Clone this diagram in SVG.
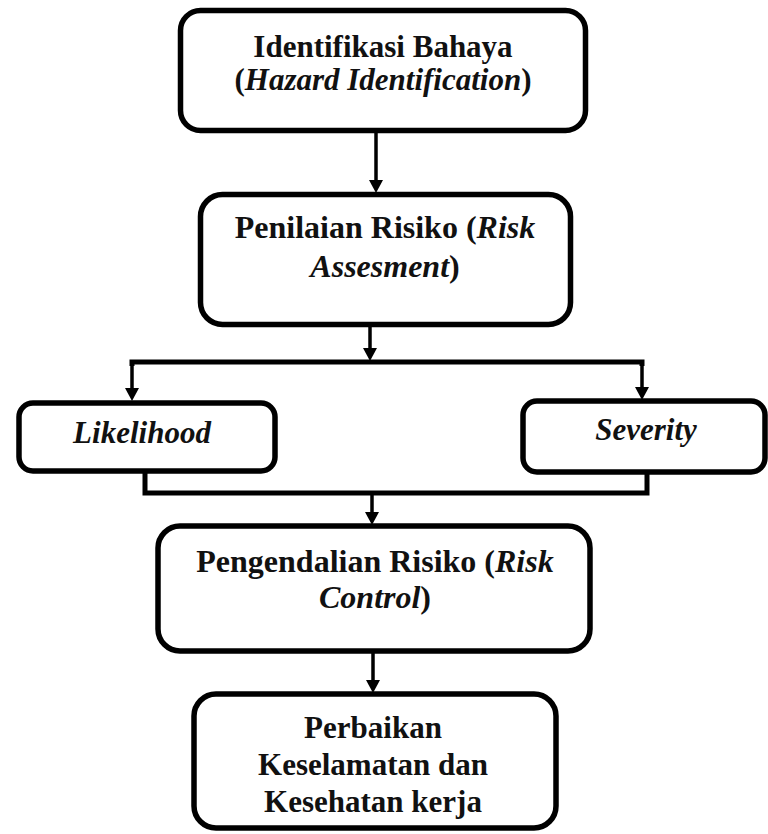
<svg xmlns="http://www.w3.org/2000/svg" width="768" height="834" viewBox="0 0 768 834">
<defs>
<marker id="ah" markerUnits="userSpaceOnUse" markerWidth="14" markerHeight="14" viewBox="0 0 13 14" refX="2" refY="7" orient="auto">
<path d="M0,0 L13,7 L0,14 Z" fill="#000"/>
</marker>
<style>
.box{fill:#fff;stroke:#000;stroke-width:5.5}
.t{font-family:"Liberation Serif","Times New Roman",serif;font-weight:bold;font-size:31px;fill:#111;text-anchor:middle}
.b{font-size:32px}
.i{font-style:italic}
.c{fill:none;stroke:#000;stroke-width:5;stroke-linejoin:miter}
.a{fill:none;stroke:#000;stroke-width:3.5}
</style>
</defs>
<g id="connectors">
<line class="a" x1="376" y1="133" x2="376" y2="182" marker-end="url(#ah)"/>
<line class="a" x1="370" y1="327" x2="370" y2="350" marker-end="url(#ah)"/>
<polyline class="c" points="132,366 132,362 642,362 642,366"/>
<line class="a" x1="132" y1="362" x2="132" y2="390" marker-end="url(#ah)"/>
<line class="a" x1="642" y1="362" x2="642" y2="389" marker-end="url(#ah)"/>
<polyline class="c" points="145,472 145,493 647,493 647,474"/>
<line class="a" x1="372" y1="493" x2="372" y2="514" marker-end="url(#ah)"/>
<line class="a" x1="373" y1="653" x2="373" y2="682" marker-end="url(#ah)"/>
</g>
<g id="n1">
<rect class="box" x="180.5" y="10.5" width="405" height="120" rx="20"/>
<text class="t" x="383" y="57">Identifikasi Bahaya</text>
<text class="t" x="383" y="90">(<tspan class="i">Hazard Identification</tspan>)</text>
</g>
<g id="n2">
<rect class="box" x="200.5" y="194.5" width="370" height="130" rx="22"/>
<text class="t b" x="385" y="238">Penilaian Risiko (<tspan class="i">Risk</tspan></text>
<text class="t b" x="385" y="277"><tspan class="i">Assesment</tspan>)</text>
</g>
<g id="n3">
<rect class="box" x="19" y="403" width="256" height="68" rx="14"/>
<text class="t i" x="142" y="443">Likelihood</text>
</g>
<g id="n4">
<rect class="box" x="523" y="401" width="242" height="71" rx="14"/>
<text class="t i" x="646" y="440">Severity</text>
</g>
<g id="n5">
<rect class="box" x="158" y="526" width="432" height="125" rx="22"/>
<text class="t b" x="375" y="572">Pengendalian Risiko (<tspan class="i">Risk</tspan></text>
<text class="t b" x="375" y="608"><tspan class="i">Control</tspan>)</text>
</g>
<g id="n6">
<rect class="box" x="194" y="694" width="362" height="134" rx="22"/>
<text class="t" x="373" y="738">Perbaikan</text>
<text class="t" x="373" y="775">Keselamatan dan</text>
<text class="t" x="373" y="812">Kesehatan kerja</text>
</g>
</svg>
